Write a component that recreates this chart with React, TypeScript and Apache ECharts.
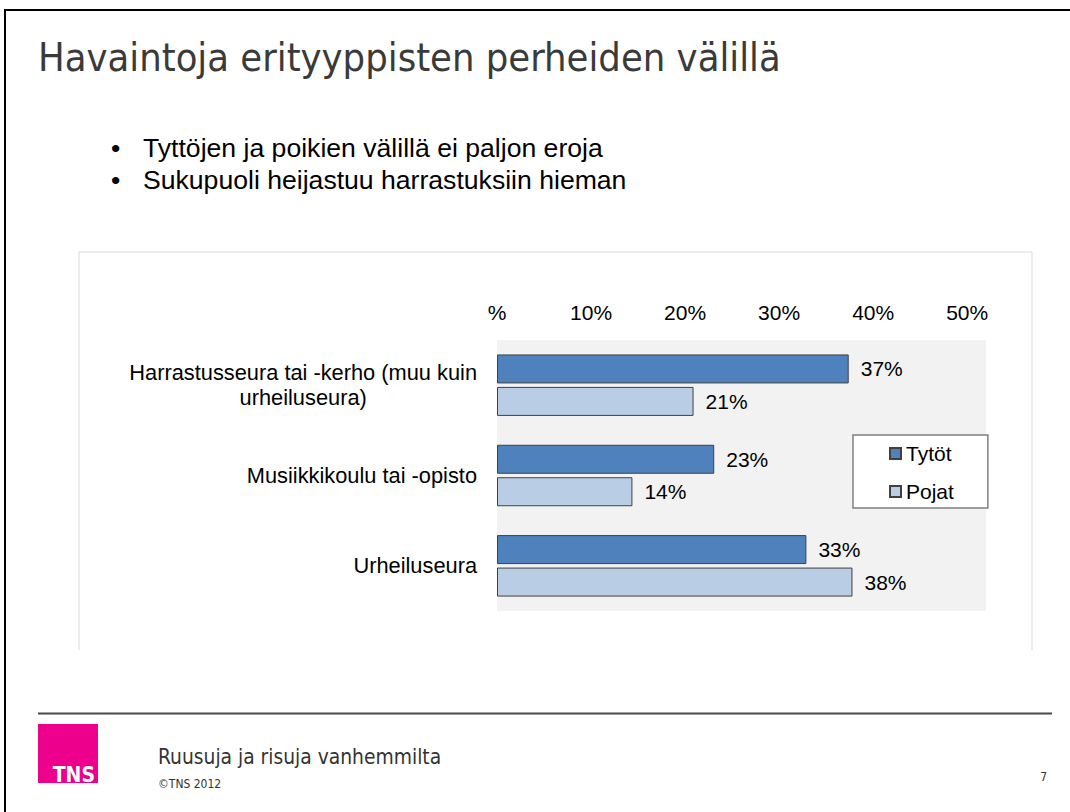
import React, { useEffect, useRef } from "react";
import * as echarts from "echarts";

const categories = [
  "Harrastusseura tai -kerho (muu kuin\nurheiluseura)",
  "Musiikkikoulu tai -opisto",
  "Urheiluseura",
];
const seriesNames = ["Tytöt", "Pojat"];
const tytot = [37.4, 23.1, 32.9];
const pojat = [20.9, 14.4, 37.8];
const xTicks = [0, 10, 20, 30, 40, 50];

const titleText = "Havaintoja erityyppisten perheiden välillä";
const bullets = [
  "Tyttöjen ja poikien välillä ei paljon eroja",
  "Sukupuoli heijastuu harrastuksiin hieman",
];
const footerTitle = "Ruusuja ja risuja vanhemmilta";
const footerCopy = "©TNS 2012";
const pageNumber = "7";
const logoText = "TNS";

const ARIAL = "'Liberation Sans', Arial, sans-serif";
const NARROW = "'DejaVu Sans Condensed', 'Liberation Sans Narrow', 'DejaVu Sans', sans-serif";

export default function App() {
  const ref = useRef<HTMLDivElement>(null);

  useEffect(() => {
    if (!ref.current) return;
    const chart = echarts.init(ref.current, null, { renderer: "svg" });

    const barLabel = {
      show: true,
      position: "right",
      distance: 12,
      fontSize: 21,
      fontFamily: ARIAL,
      color: "#000",
      formatter: (p: any) => Math.round(p.value) + "%",
    };

    const option: any = {
      animation: false,
      backgroundColor: "#fff",
      textStyle: { fontFamily: ARIAL },
      grid: {
        left: 497,
        top: 340,
        width: 489,
        height: 271,
        show: true,
        backgroundColor: "#f2f2f2",
        borderWidth: 0,
        containLabel: false,
      },
      xAxis: {
        type: "value",
        position: "top",
        min: 0,
        max: 52,
        interval: 10,
        axisLine: { show: false },
        axisTick: { show: false },
        splitLine: { show: false },
        axisLabel: {
          margin: 17,
          fontSize: 21,
          fontFamily: ARIAL,
          color: "#000",
          formatter: (v: number) =>
            xTicks.indexOf(v) >= 0 ? (v === 0 ? "%" : v + "%") : "",
        },
      },
      yAxis: {
        type: "category",
        inverse: true,
        data: categories,
        axisLine: { show: false },
        axisTick: { show: false },
        splitLine: { show: false },
        axisLabel: {
          margin: 20,
          align: "right",
          formatter: (v: string) =>
            v
              .split("\n")
              .map((l) => "{c|" + l + "}")
              .join("\n"),
          rich: {
            c: {
              align: "center",
              fontSize: 21.8,
              lineHeight: 25,
              fontFamily: ARIAL,
              color: "#000",
            },
          },
        },
      },
      legend: {
        orient: "vertical",
        left: 853,
        top: 435,
        data: seriesNames,
        icon: "rect",
        itemWidth: 11,
        itemHeight: 11,
        itemGap: 17,
        padding: [8, 34, 6, 36],
        backgroundColor: "#fff",
        borderColor: "#7f7f7f",
        borderWidth: 1.5,
        borderRadius: 0,
        textStyle: { fontSize: 21, fontFamily: ARIAL, color: "#000" },
      },
      series: [
        {
          name: seriesNames[0],
          type: "bar",
          data: tytot,
          barWidth: 29,
          barGap: "12%",
          itemStyle: { color: "#4f81bd", borderColor: "#404040", borderWidth: 1 },
          label: barLabel,
        },
        {
          name: seriesNames[1],
          type: "bar",
          data: pojat,
          barWidth: 29,
          barGap: "12%",
          itemStyle: { color: "#b9cde5", borderColor: "#404040", borderWidth: 1 },
          label: barLabel,
        },
      ],
      graphic: [
        // slide frame
        { type: "rect", shape: { x: 4, y: 9, width: 1066, height: 2 }, style: { fill: "#000" } },
        { type: "rect", shape: { x: 4, y: 9, width: 2, height: 803 }, style: { fill: "#000" } },
        // chart box
        { type: "line", shape: { x1: 79, y1: 252, x2: 1032, y2: 252 }, style: { stroke: "#d9d9d9", lineWidth: 1 } },
        { type: "line", shape: { x1: 79, y1: 252, x2: 79, y2: 650 }, style: { stroke: "#d9d9d9", lineWidth: 1 } },
        { type: "line", shape: { x1: 1032, y1: 252, x2: 1032, y2: 650 }, style: { stroke: "#d9d9d9", lineWidth: 1 } },
        // title
        {
          type: "text",
          x: 38,
          y: 57,
          style: {
            text: titleText,
            fontSize: 39.5,
            fontFamily: NARROW,
            fill: "#3a3a3a",
            verticalAlign: "middle",
          },
        },
        // bullets
        ...bullets.flatMap((b, i) => [
          {
            type: "text",
            x: 111,
            y: 148 + i * 32,
            style: { text: "•", fontSize: 26.6, fontFamily: ARIAL, fill: "#000", verticalAlign: "middle" },
          },
          {
            type: "text",
            x: 143,
            y: 148 + i * 32,
            style: { text: b, fontSize: 26.6, fontFamily: ARIAL, fill: "#000", verticalAlign: "middle" },
          },
        ]),
        // footer
        { type: "rect", shape: { x: 38, y: 712.5, width: 1014, height: 2 }, style: { fill: "#4a4a4a" } },
        { type: "rect", shape: { x: 38, y: 724, width: 60, height: 59 }, style: { fill: "#ec008c" } },
        {
          type: "text",
          x: 95,
          y: 775,
          style: {
            text: logoText,
            fontSize: 21,
            fontWeight: "bold",
            fontFamily: NARROW,
            fill: "#fff",
            align: "right",
            verticalAlign: "middle",
          },
        },
        {
          type: "text",
          x: 158,
          y: 757,
          style: { text: footerTitle, fontSize: 20.8, fontFamily: NARROW, fill: "#333", verticalAlign: "middle" },
        },
        {
          type: "text",
          x: 158,
          y: 784,
          style: { text: footerCopy, fontSize: 12, fontFamily: NARROW, fill: "#333", verticalAlign: "middle" },
        },
        {
          type: "text",
          x: 1047,
          y: 777,
          style: { text: pageNumber, fontSize: 12, fontFamily: NARROW, fill: "#333", align: "right", verticalAlign: "middle" },
        },
      ],
    };

    chart.setOption(option);
    return () => chart.dispose();
  }, []);

  return (
    <div
      ref={ref}
      style={{ position: "fixed", left: 0, top: 0, width: 1070, height: 812, background: "#fff" }}
    />
  );
}
